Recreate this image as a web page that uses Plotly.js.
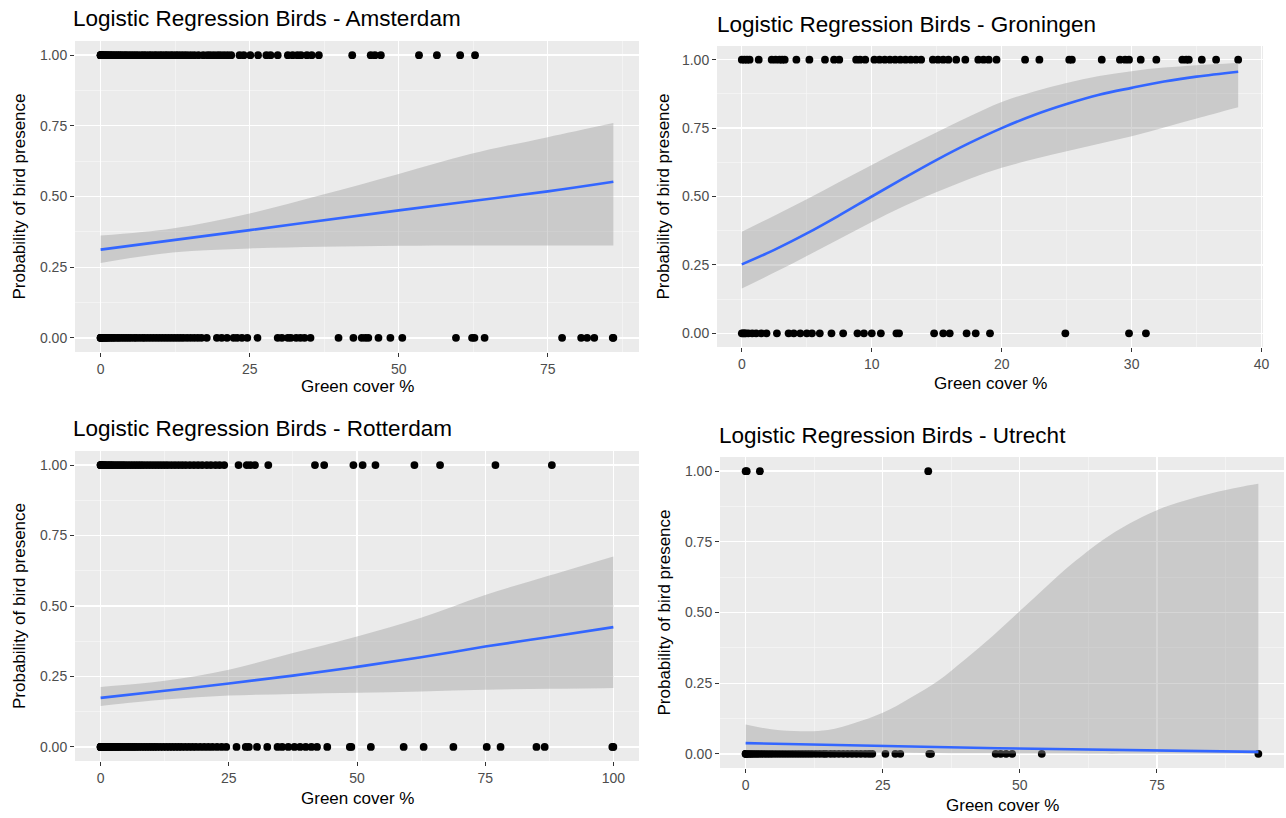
<!DOCTYPE html>
<html><head><meta charset="utf-8">
<script src="https://cdn.plot.ly/plotly-3.0.1.min.js"></script>
<style>html,body{margin:0;padding:0;background:#fff;}#chart{width:1286px;height:818px;}</style>
</head><body><div id="chart"></div>
<script>
// ---------------- DATA ----------------
const cities = ["Amsterdam", "Groningen", "Rotterdam", "Utrecht"];

// Amsterdam
const amsPresentX = [0,0,0,0.1,0.2,0.3,0.5,0.7,0.9,1.1,1.3,1.6,1.8,2.1,2.4,2.7,3.0,3.3,3.6,4.0,4.3,4.7,5.1,5.5,5.9,6.3,6.8,7.2,7.6,8.1,8.5,9.0,9.4,9.9,10.3,10.8,11.2,11.7,12.1,12.6,13.0,13.5,14.0,14.5,15.1,15.7,16.4,17.2,17.9,18.4,19.0,19.6,20.1,20.7,21.3,21.9,23.3,24.0,25.1,26.4,27.8,28.5,29.7,31.4,32.2,33.0,33.6,34.6,35.4,36.6,42.2,45.3,46.0,47.0,53.4,56.4,60.3,62.8];
const amsAbsentX = [0,0,0,0.1,0.2,0.4,0.6,0.8,1.0,1.2,1.5,1.8,2.1,2.4,2.8,3.1,3.5,3.9,4.3,4.7,5.1,5.6,6.0,6.5,7.0,7.4,7.9,8.4,8.9,9.4,9.9,10.4,10.9,11.4,11.9,12.4,12.9,13.4,13.9,14.5,15.1,15.7,16.3,16.9,17.8,19.5,20.3,21.2,22.3,22.9,23.7,24.6,26.3,29.7,30.4,31.4,31.9,32.8,33.5,34.2,35.2,39.9,42.4,43.8,44.4,44.9,46.6,48.6,50.6,59.6,62.3,62.7,64.4,77.4,80.6,81.6,82.8,85.9,86.0];
const amsFitX = [0,25,50,75,86];
const amsFitP = [0.312,0.381,0.451,0.518,0.552];
const amsBandX = [0,12,25,37,50,62,75,86];
const amsBandHi = [0.362,0.387,0.44,0.505,0.58,0.65,0.71,0.76];
const amsBandLo = [0.265,0.302,0.316,0.322,0.326,0.327,0.327,0.327];

// Groningen
const groPresentX = [0,0.2,0.4,0.6,1.3,2.3,2.6,2.9,3.1,3.3,4.2,5.2,6.4,7.1,7.5,8.8,9.1,9.5,10.2,10.6,11.0,11.4,11.8,12.2,12.6,13.0,13.4,13.8,14.7,15.1,15.5,15.9,16.5,17.2,18.2,18.6,19.0,19.6,21.8,22.9,25.2,25.4,27.7,29.1,29.5,29.8,30.7,31.9,33.9,34.2,34.4,35.4,36.5,38.2];
const groAbsentX = [0,0.1,0.2,0.3,0.5,0.8,1.1,1.5,1.9,2.7,3.6,4.0,4.5,5.0,5.4,6.0,6.9,7.8,8.9,9.4,10.0,10.7,11.9,12.1,14.8,15.5,16.0,17.3,18.0,19.1,24.9,29.8,31.1];
const groFitX = [0,2.5,5,7.5,10,12.5,15,17.5,20,22.5,25,27.5,30,32.5,35,38.2];
const groFitP = [0.252,0.305,0.365,0.431,0.5,0.568,0.634,0.695,0.75,0.798,0.838,0.872,0.897,0.92,0.938,0.956];
const groBandX = [0,2.5,5,7.5,10,12.5,15,17.5,20,22.5,25,27.5,30,32.5,35,38.2];
const groBandHi = [0.371,0.43,0.49,0.553,0.615,0.676,0.735,0.792,0.845,0.884,0.915,0.94,0.958,0.971,0.98,0.988];
const groBandLo = [0.164,0.222,0.283,0.345,0.407,0.465,0.516,0.564,0.605,0.637,0.665,0.693,0.72,0.752,0.785,0.826];

// Rotterdam
const rotPresentX = [0,0,0,0.1,0.3,0.5,0.7,0.9,1.2,1.5,1.8,2.1,2.4,2.8,3.2,3.6,4.0,4.4,4.8,5.3,5.8,6.3,6.8,7.3,7.8,8.3,8.9,9.5,10.1,10.7,11.3,11.9,12.5,13.1,13.8,14.5,15.2,15.9,16.6,17.4,18.2,19.0,19.8,20.7,21.5,22.4,23.2,24.1,26.9,28.5,29.2,30.1,32.7,41.8,43.6,49.3,51.1,53.6,61.2,66.2,77.0,88.0];
const rotAbsentX = [0,0,0,0,0.1,0.2,0.3,0.5,0.7,0.9,1.1,1.3,1.5,1.8,2.0,2.3,2.6,2.9,3.2,3.5,3.8,4.2,4.6,5.0,5.4,5.8,6.2,6.6,7.0,7.5,8.0,8.5,9.0,9.5,10.0,10.5,11.0,11.6,12.2,12.8,13.4,14.0,14.6,15.2,15.8,16.5,17.2,17.9,18.6,19.4,20.2,21.0,21.8,22.7,23.6,24.5,26.5,28.3,28.9,30.5,32.5,34.5,35.4,36.6,37.8,38.9,40.0,41.1,42.2,44.2,48.6,48.9,52.7,59.1,63.0,68.8,75.3,78.0,85.0,86.6,99.8,100];
const rotFitX = [0,12.5,25,37.5,50,62.5,75,87.5,100];
const rotFitP = [0.174,0.199,0.225,0.253,0.284,0.318,0.356,0.39,0.425];
const rotBandX = [0,12.5,25,37.5,50,62.5,75,87.5,100];
const rotBandHi = [0.213,0.235,0.274,0.333,0.392,0.458,0.539,0.608,0.676];
const rotBandLo = [0.145,0.168,0.182,0.188,0.192,0.197,0.203,0.206,0.209];

// Utrecht
const utrPresentX = [0,0.2,2.6,33.3];
const utrAbsentX = [0,0,0.1,0.3,0.6,0.9,1.2,1.6,2.0,2.4,2.9,3.4,3.9,4.4,4.9,5.5,6.1,6.7,7.3,7.9,8.5,9.1,9.7,10.3,10.9,11.5,12.1,12.8,13.5,14.2,14.7,15.5,16.2,17.0,17.8,18.6,19.4,20.2,21.0,21.8,22.5,23.1,25.5,27.3,28.2,33.5,33.8,45.6,46.5,47.5,48.6,54.0,93.5];
const utrFitX = [0,46,93.5];
const utrFitP = [0.038,0.02,0.007];
const utrBandX = [0,5,10,15,20,25,30,35,40,45,50,55,60,65,70,75,80,85,90,93.5];
const utrBandHi = [0.104,0.086,0.08,0.084,0.11,0.145,0.198,0.257,0.334,0.416,0.505,0.595,0.68,0.755,0.815,0.862,0.895,0.922,0.943,0.955];
const utrBandLo = [0.013,0.011,0.009,0.007,0.006,0.005,0.004,0.003,0.002,0.002,0.001,0.001,0.001,0,0,0,0,0,0,0];

const yTickVals = [0, 0.25, 0.5, 0.75, 1];
const yTickText = ["0.00", "0.25", "0.50", "0.75", "1.00"];

// ---------------- LAYOUT ----------------
const W = 1286, H = 818;
const FONT = '"Liberation Sans", Arial, sans-serif';
const panels = [
  {name: cities[0], pres: amsPresentX, abs: amsAbsentX, fx: amsFitX, fp: amsFitP, bx: amsBandX, bh: amsBandHi, bl: amsBandLo,
   box: [75, 41, 639, 352], dtick: 25, title: [71, 19], xt: 387, yt: 19},
  {name: cities[1], pres: groPresentX, abs: groAbsentX, fx: groFitX, fp: groFitP, bx: groBandX, bh: groBandHi, bl: groBandLo,
   box: [717, 46, 1263, 347], dtick: 10, title: [715, 24], xt: 383, yt: 663},
  {name: cities[2], pres: rotPresentX, abs: rotAbsentX, fx: rotFitX, fp: rotFitP, bx: rotBandX, bh: rotBandHi, bl: rotBandLo,
   box: [75, 451, 639, 761], dtick: 25, title: [71, 428], xt: 798, yt: 19},
  {name: cities[3], pres: utrPresentX, abs: utrAbsentX, fx: utrFitX, fp: utrFitP, bx: utrBandX, bh: utrBandHi, bl: utrBandLo,
   box: [720, 457, 1284, 768], dtick: 25, title: [717, 435], xt: 805, yt: 664}
];

const traces = [];
const layout = {
  width: W, height: H, margin: {l: 0, r: 0, t: 0, b: 0},
  paper_bgcolor: "#ffffff", plot_bgcolor: "#EBEBEB",
  showlegend: false, font: {family: FONT, color: "#4D4D4D"},
  annotations: []
};

panels.forEach((p, i) => {
  const k = i === 0 ? "" : String(i + 1);
  const xa = "x" + k, ya = "y" + k;
  const allX = p.pres.concat(p.abs);
  const mn = Math.min(...allX), mx = Math.max(...allX);
  const pad = 0.05 * (mx - mn);
  const [l, t, r, b] = p.box;

  traces.push({type: "scatter", mode: "markers", x: p.pres, y: p.pres.map(() => 1), xaxis: xa, yaxis: ya,
    marker: {color: "#000000", size: 7.8}, hoverinfo: "skip"});
  traces.push({type: "scatter", mode: "markers", x: p.abs, y: p.abs.map(() => 0), xaxis: xa, yaxis: ya,
    marker: {color: "#000000", size: 7.8}, hoverinfo: "skip"});
  traces.push({type: "scatter", mode: "lines", x: p.bx, y: p.bl, xaxis: xa, yaxis: ya,
    line: {width: 0, shape: "spline", smoothing: 1}, hoverinfo: "skip"});
  traces.push({type: "scatter", mode: "lines", x: p.bx, y: p.bh, xaxis: xa, yaxis: ya, fill: "tonexty",
    fillcolor: "rgba(153,153,153,0.4)", line: {width: 0, shape: "spline", smoothing: 1}, hoverinfo: "skip"});
  traces.push({type: "scatter", mode: "lines", x: p.fx, y: p.fp, xaxis: xa, yaxis: ya,
    line: {color: "#3366FF", width: 2.6, shape: "spline", smoothing: 1}, hoverinfo: "skip"});

  layout["xaxis" + k] = {
    domain: [l / W, r / W], anchor: ya, range: [mn - pad, mx + pad],
    tick0: 0, dtick: p.dtick, ticks: "outside", ticklen: 4, tickwidth: 1, tickcolor: "#333333",
    tickfont: {size: 14, color: "#4D4D4D", family: FONT},
    showgrid: true, gridcolor: "#FFFFFF", gridwidth: 1.3, zeroline: false, showline: false,
    minor: {tick0: 0, dtick: p.dtick / 2, showgrid: true, gridcolor: "#F7F7F7", gridwidth: 0.7}
  };
  layout["yaxis" + k] = {
    domain: [1 - b / H, 1 - t / H], anchor: xa, range: [-0.05, 1.05],
    tickmode: "array", tickvals: yTickVals, ticktext: yTickText,
    ticks: "outside", ticklen: 4, tickwidth: 1, tickcolor: "#333333",
    tickfont: {size: 14, color: "#4D4D4D", family: FONT},
    showgrid: true, gridcolor: "#FFFFFF", gridwidth: 1.3, zeroline: false, showline: false,
    minor: {tickvals: [0.125, 0.375, 0.625, 0.875], showgrid: true, gridcolor: "#F7F7F7", gridwidth: 0.7}
  };

  layout.annotations.push({
    text: "Logistic Regression Birds - " + p.name, xref: "paper", yref: "paper",
    x: p.title[0] / W, y: 1 - p.title[1] / H, xanchor: "left", yanchor: "middle", showarrow: false,
    font: {size: 22.5, color: "#000000", family: FONT}
  });
  layout.annotations.push({
    text: "Green cover %", xref: "paper", yref: "paper",
    x: (l + r) / 2 / W, y: 1 - p.xt / H, xanchor: "center", yanchor: "middle", showarrow: false,
    font: {size: 17, color: "#000000", family: FONT}
  });
  layout.annotations.push({
    text: "Probability of bird presence", xref: "paper", yref: "paper", textangle: -90,
    x: p.yt / W, y: 1 - (t + b) / 2 / H, xanchor: "center", yanchor: "middle", showarrow: false,
    font: {size: 17, color: "#000000", family: FONT}
  });
});

Plotly.newPlot("chart", traces, layout, {staticPlot: true, displayModeBar: false});
</script></body></html>
